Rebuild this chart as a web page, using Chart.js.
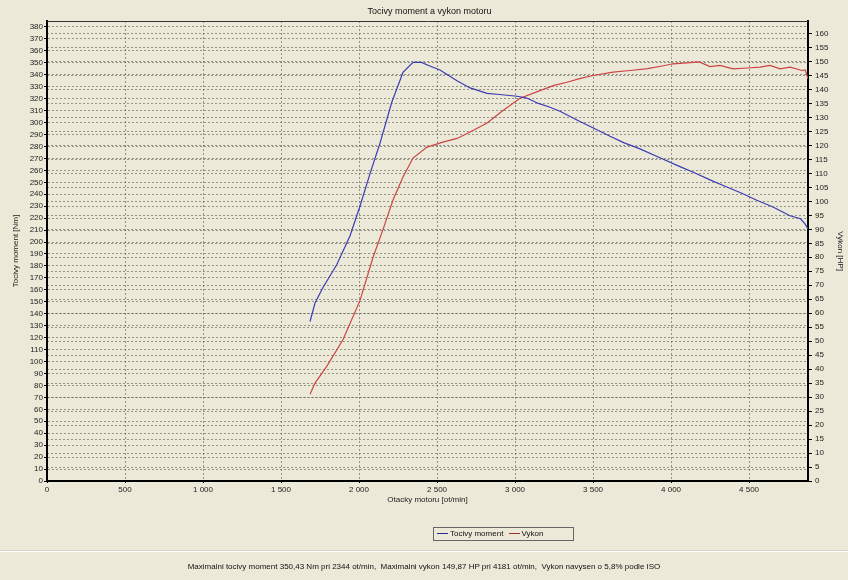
<!DOCTYPE html>
<html>
<head>
<meta charset="utf-8">
<script src="https://cdn.jsdelivr.net/npm/chart.js@4"></script>
<style>
  html, body { margin: 0; padding: 0; background: #ece9d8; }
  #wrap { position: relative; width: 848px; height: 580px; background: #ece9d8;
    font-family: "Liberation Sans", Arial, sans-serif; font-size: 8px; color: #111; }
  #chart { position: absolute; left: 0; top: 0; }
  #legend { position: absolute; left: 433px; top: 527px; width: 139px; height: 12px;
    border: 1px solid #666; line-height: 12px; white-space: nowrap; }
  #legend .ln { display: inline-block; width: 11px; height: 0; vertical-align: middle;
    margin: 0 2px 0 3px; border-top: 1px solid; }
  #footer { position: absolute; left: 0; top: 551px; width: 848px; height: 29px;
    border-top: 1px solid #fff; box-shadow: 0 -1px 0 #d6d2bd; text-align: center;
    line-height: 30px; }
</style>
</head>
<body>
<div id="wrap">
  <canvas id="chart" width="848" height="580"></canvas>
  <div id="legend"><span class="ln" style="border-color:#2a2a90"></span>Tocivy moment <span class="ln" style="border-color:#a03030"></span>Vykon</div>
  <div id="footer">Maximalni tocivy moment 350,43 Nm pri 2344 ot/min,&nbsp; Maximalni vykon 149,87 HP pri 4181 ot/min,&nbsp; Vykon navysen o 5,8% podle ISO</div>
</div>
<script>
// -- data
const torqueRpm = [1686, 1718, 1769, 1857, 1942, 2006, 2070, 2135, 2210, 2282, 2346, 2400, 2450, 2519, 2628, 2712, 2821, 2900, 3013, 3075, 3150, 3220, 3288, 3400, 3502, 3609, 3700, 3801, 3929, 4050, 4150, 4250, 4350, 4450, 4550, 4650, 4763, 4830, 4860, 4878];
const torqueNm = [133.5, 149, 162, 181, 205, 230, 257, 283, 317, 342, 350.4, 350.3, 347.5, 344, 335, 329, 324.5, 323.5, 322, 320.5, 316, 313, 309.5, 302, 295.5, 288.5, 283, 278, 270.5, 263.5, 258, 252, 246.5, 241, 235, 229.5, 222, 219.5, 215, 211];

const powerRpm = [1686, 1718, 1793, 1897, 2006, 2090, 2154, 2218, 2282, 2346, 2436, 2538, 2628, 2712, 2821, 2923, 3032, 3160, 3250, 3333, 3420, 3500, 3628, 3737, 3850, 3950, 4013, 4100, 4181, 4250, 4314, 4397, 4487, 4571, 4635, 4699, 4763, 4840, 4860, 4878];
const powerHp = [31, 35, 41, 50.5, 64.5, 80, 90, 100.5, 108.7, 115.5, 119.4, 121.2, 122.5, 124.8, 128, 132.5, 136.9, 139.6, 141.5, 142.6, 144, 145, 146.2, 146.8, 147.5, 148.5, 149.2, 149.5, 149.87, 148.2, 148.6, 147.4, 147.7, 148, 148.6, 147.4, 148, 146.8, 147, 143.8];

// tick positions on the rpm axis
const rpmTicks = [0, 500, 1000, 1500, 2000, 2500, 3000, 3500, 4000, 4500];

const chartTitle = "Tocivy moment a vykon motoru";
const xTitle = "Otacky motoru [ot/min]";
const yLeftTitle = "Tocivy moment [Nm]";
const yRightTitle = "Vykon [HP]";

// -- helpers
function pts(xs, ys) {
  return xs.map((x, i) => ({ x: x, y: ys[i] }));
}
function spaced(v) {
  return String(v).replace(/\B(?=(\d{3})+(?!\d))/g, " ");
}

Chart.defaults.font.family = "'Liberation Sans', Arial, sans-serif";
Chart.defaults.font.size = 8;
Chart.defaults.color = "#222";

const gridColor = "rgba(100,100,90,0.65)";

// title + top frame line drawn over the plot
const frame = {
  id: "frame",
  afterDraw(chart) {
    const a = chart.chartArea, ctx = chart.ctx;
    ctx.save();
    ctx.strokeStyle = "#333";
    ctx.lineWidth = 1;
    ctx.beginPath();
    ctx.moveTo(a.left, a.top + 0.5);
    ctx.lineTo(a.right, a.top + 0.5);
    ctx.stroke();
    ctx.fillStyle = "#111";
    ctx.font = "9px 'Liberation Sans', Arial, sans-serif";
    ctx.textAlign = "center";
    ctx.textBaseline = "middle";
    ctx.fillText(chartTitle, (a.left + a.right) / 2 + 2, 12);
    ctx.restore();
  },
};

new Chart(document.getElementById("chart"), {
  type: "line",
  data: {
    datasets: [
      {
        label: "Tocivy moment",
        data: pts(torqueRpm, torqueNm),
        yAxisID: "y",
        borderColor: "#3b3bb4",
        borderWidth: 1.2,
        pointRadius: 0,
        tension: 0,
      },
      {
        label: "Vykon",
        data: pts(powerRpm, powerHp),
        yAxisID: "y1",
        borderColor: "#cc4444",
        borderWidth: 1.2,
        pointRadius: 0,
        tension: 0,
      },
    ],
  },
  options: {
    responsive: false,
    animation: false,
    devicePixelRatio: 1,
    layout: { padding: { top: 21, bottom: 75, left: 0, right: 0 } },
    plugins: {
      legend: { display: false },
      title: { display: false },
      tooltip: { enabled: false },
    },
    scales: {
      x: {
        type: "linear",
        min: 0,
        max: 4878,
        afterFit: (s) => { s.height = 24; },
        afterBuildTicks: (s) => { s.ticks = rpmTicks.map((v) => ({ value: v })); },
        ticks: { autoSkip: false, padding: 2, maxRotation: 0, callback: (v) => spaced(v) },
        grid: { color: gridColor, tickLength: 2, tickColor: "#000", tickBorderDash: [] },
        border: { color: "#000", width: 2, dash: [2, 2] },
        title: { display: true, text: xTitle, padding: 0 },
      },
      y: {
        position: "left",
        min: 0,
        max: 385,
        afterFit: (s) => { s.width = 47; },
        ticks: { stepSize: 10, includeBounds: false, autoSkip: false, maxTicksLimit: 100, padding: 1 },
        grid: { color: gridColor, tickLength: 3, tickColor: "#000", tickBorderDash: [] },
        border: { color: "#000", width: 2, dash: [2, 2] },
        title: { display: true, text: yLeftTitle, padding: { top: 11, bottom: 0 } },
      },
      y1: {
        position: "right",
        min: 0,
        max: 164.5,
        afterFit: (s) => { s.width = 40; },
        ticks: { stepSize: 5, includeBounds: false, autoSkip: false, maxTicksLimit: 100, padding: 3 },
        grid: { color: gridColor, tickLength: 4, tickColor: "#000", tickBorderDash: [] },
        border: { color: "#000", width: 2, dash: [2, 2] },
        title: { display: true, text: yRightTitle, padding: { top: 3, bottom: 0 } },
      },
    },
  },
  plugins: [frame],
});
</script>
</body>
</html>
